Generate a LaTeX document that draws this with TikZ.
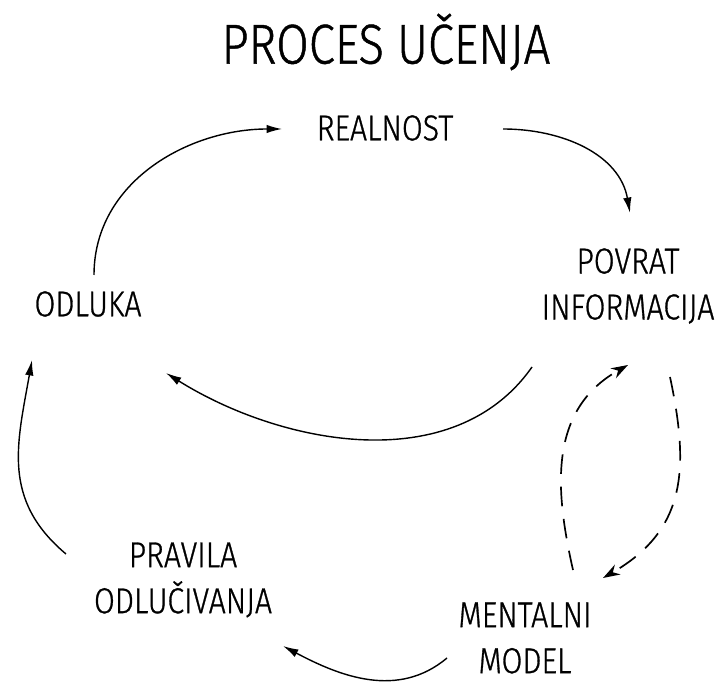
\documentclass[tikz,border=0pt]{standalone}
\usepackage{fontspec}
\setmainfont{Fira Sans}[UprightFont=* Light, FakeStretch=0.84, FakeBold=0.8]
\usepackage{tikz}
\usetikzlibrary{arrows.meta,positioning}

\tikzset{
  lbl/.style={inner sep=0pt, align=center, font=\fontsize{25.6pt}{32.7pt}\selectfont},
  flow/.style={-{Latex[length=11pt,width=6pt]}, line width=1pt},
  loop/.style={-{Stealth[length=12pt,width=8pt]}, line width=1.2pt, dash pattern=on 14pt off 9pt}
}

\begin{document}
\begin{tikzpicture}[x=0.025cm,y=0.025cm]
  \useasboundingbox (0,0) rectangle (728,682);
  % title
  \node (title) [inner sep=0pt, font=\fontsize{40pt}{48pt}\selectfont] at (386,640) {PROCES UČENJA};
  % stations of the loop
  \node (realnost) [lbl] at (385,554) {REALNOST};
  \node (povrat)   [lbl] at (628,396) {POVRAT\\INFORMACIJA};
  \node (odluka)   [lbl] at (88,378)  {ODLUKA};
  \node (pravila)  [lbl] at (183,102) {PRAVILA\\ODLUČIVANJA};
  \node (mentalni) [lbl] at (525,44)  {MENTALNI\\MODEL};
  % outer loop
  \draw[flow] ([shift={(6,29)}]odluka.center) to[out=90,in=180] ([shift={(-103,-1)}]realnost.center);
  \draw[flow] ([shift={(118,-1)}]realnost.center) to[out=0,in=100] ([shift={(2,73)}]povrat.center);
  \draw[flow] ([shift={(-96,-81)}]povrat.center) to[out=235,in=-32,looseness=0.95] ([shift={(78,-69)}]odluka.center);
  % inner loop
  \draw[loop] ([shift={(42,-91)}]povrat.center) to[out=-78,in=30,looseness=1.15] ([shift={(78,60)}]mentalni.center);
  \draw[loop] ([shift={(48,68)}]mentalni.center) .. controls +(-18,80) and +(-80,-45) .. ([shift={(0,-79)}]povrat.center);
  \draw[flow] ([shift={(-78,-20)}]mentalni.center) to[out=220,in=332] ([shift={(100,-66)}]pravila.center);
  \draw[flow] ([shift={(-117,26)}]pravila.center) to[out=140,in=260,looseness=1.1] ([shift={(-56,-56)}]odluka.center);
\end{tikzpicture}
\end{document}
